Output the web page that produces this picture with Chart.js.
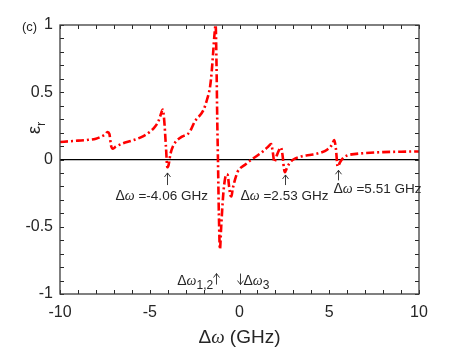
<!DOCTYPE html>
<html>
<head>
<meta charset="utf-8">
<script src="https://cdn.jsdelivr.net/npm/chart.js@4.4.0/dist/chart.umd.min.js"></script>
<style>
  body { margin: 0; background: #fff; }
  #wrap { width: 463px; height: 348px; position: relative; }
</style>
</head>
<body>
<div id="wrap"><canvas id="chart"></canvas></div>
<script>
// detuning (GHz) and relative permittivity
const detuning = [-10, -9, -8.5, -8, -7.7, -7.5, -7.35, -7.25, -7.15, -7.05, -6.9, -6.5, -6, -5.5, -5,
    -4.7, -4.5, -4.35, -4.28, -4.2, -4.1, -4.02, -3.95, -3.85, -3.7, -3.5, -3.2, -2.8, -2.5, -2.0,
    -1.8, -1.64, -1.55, -1.47, -1.4, -1.33, -1.28, -1.24, -1.2, -1.15, -1.09, -1.02, -0.9, -0.8,
    -0.72, -0.66, -0.58, -0.5, -0.45, -0.38, -0.25, -0.1, 0, 0.3, 0.68, 1.0, 1.3, 1.55, 1.7, 1.76,
    1.85, 1.94, 2.05, 2.2, 2.31, 2.4, 2.47, 2.53, 2.65, 2.8, 3.0, 3.5, 4.0, 4.5, 4.9, 5.15, 5.28,
    5.37, 5.47, 5.6, 5.8, 6.0, 6.5, 7, 8, 9, 10];
const epsR = [0.13, 0.14, 0.145, 0.155, 0.17, 0.185, 0.205, 0.19, 0.1, 0.08, 0.095, 0.12, 0.14, 0.165, 0.205,
    0.245, 0.29, 0.35, 0.372, 0.3, 0.1, -0.058, -0.04, 0.04, 0.1, 0.14, 0.17, 0.2, 0.28, 0.37,
    0.45, 0.54, 0.65, 0.79, 0.92, 1.0, 0.7, 0.3, 0, -0.4, -0.668, -0.5, -0.25, -0.14,
    -0.11, -0.115, -0.2, -0.27, -0.275, -0.22, -0.15, -0.09, -0.07, -0.04, 0, 0.03, 0.06, 0.09, 0.11, 0.115,
    0.06, -0.02, 0.02, 0.07, 0.09, 0.03, -0.06, -0.095, -0.06, -0.025, 0.0, 0.025, 0.035, 0.05, 0.075, 0.11, 0.145,
    0.08, -0.053, -0.02, 0.015, 0.03, 0.042, 0.048, 0.055, 0.058, 0.06];

const xTicks = [-10, -5, 0, 5, 10];
const yTicks = [-1, -0.5, 0, 0.5, 1];

// arrows pointing at the resonance dips (tip/tail in data units, text offset in px)
const markers = [
    { x: -4.06, label: '=-4.06 GHz', tipY: -0.1, tailY: -0.19, textY: -0.265, dx: -52 },
    { x: 2.53, label: '=2.53 GHz', tipY: -0.115, tailY: -0.19, textY: -0.265, dx: -45 },
    { x: 5.51, label: '=5.51 GHz', tipY: -0.08, tailY: -0.155, textY: -0.21, dx: -5 }
];

const points = detuning.map((d, i) => ({ x: d, y: epsR[i] }));

const SANS = '"Liberation Sans", Arial, sans-serif';
const SERIF = '"Liberation Serif", "DejaVu Serif", serif';

function drawDeltaOmega(ctx, x, y, size, align) {
    // "Δω" with an italic omega, returns width
    ctx.font = size + 'px ' + SANS;
    const wD = ctx.measureText('Δ').width;
    ctx.font = 'italic ' + size + 'px ' + SERIF;
    const wO = ctx.measureText('ω').width;
    const x0 = align === 'right' ? x - wD - wO : x;
    ctx.textAlign = 'left';
    ctx.font = size + 'px ' + SANS;
    ctx.fillText('Δ', x0, y);
    ctx.font = 'italic ' + size + 'px ' + SERIF;
    ctx.fillText('ω', x0 + wD, y);
    return wD + wO;
}

function arrow(ctx, x, yTail, yTip) {
    const dir = yTip < yTail ? 1 : -1;
    ctx.beginPath();
    ctx.moveTo(x, yTail); ctx.lineTo(x, yTip);
    ctx.moveTo(x - 3, yTip + 4 * dir); ctx.lineTo(x, yTip); ctx.lineTo(x + 3, yTip + 4 * dir);
    ctx.stroke();
}

const decorations = {
    id: 'decorations',
    afterDraw(chart) {
        const ctx = chart.ctx;
        const xs = chart.scales.x;
        const ys = chart.scales.y;
        const a = chart.chartArea;
        ctx.save();

        // inward ticks on all four sides
        ctx.strokeStyle = '#262626';
        ctx.lineWidth = 1;
        for (let v = -10; v <= 10; v++) {
            const px = Math.round(xs.getPixelForValue(v)) + 0.5;
            ctx.beginPath();
            ctx.moveTo(px, a.bottom); ctx.lineTo(px, a.bottom - 4);
            ctx.moveTo(px, a.top); ctx.lineTo(px, a.top + 4);
            ctx.stroke();
        }
        for (let k = -10; k <= 10; k++) {
            const py = Math.round(ys.getPixelForValue(k / 10)) + 0.5;
            ctx.beginPath();
            ctx.moveTo(a.left, py); ctx.lineTo(a.left + 4, py);
            ctx.moveTo(a.right, py); ctx.lineTo(a.right - 4, py);
            ctx.stroke();
        }

        // frame
        ctx.lineWidth = 1.3;
        ctx.strokeStyle = '#3c3c3c';
        ctx.strokeRect(a.left, a.top, a.right - a.left, a.bottom - a.top);

        ctx.fillStyle = '#262626';
        ctx.strokeStyle = '#262626';
        ctx.lineWidth = 0.9;
        ctx.textBaseline = 'alphabetic';

        // resonance markers
        markers.forEach(m => {
            const px = Math.round(xs.getPixelForValue(m.x)) + 0.5;
            arrow(ctx, px, ys.getPixelForValue(m.tailY), ys.getPixelForValue(m.tipY));
            const pyT = ys.getPixelForValue(m.textY) + 5;
            const startX = px + m.dx;
            const w = drawDeltaOmega(ctx, startX, pyT, 14);
            ctx.font = '13.5px ' + SANS;
            ctx.textAlign = 'left';
            ctx.fillText(' ' + m.label, startX + w, pyT);
        });

        // Δω1,2 ↑ and ↓ Δω3 near the bottom
        const px12 = xs.getPixelForValue(-1.3);
        const px3 = Math.round(xs.getPixelForValue(0)) + 0.5;
        const yb = ys.getPixelForValue(-0.9) + 4;
        arrow(ctx, Math.round(px12) + 0.5, yb, yb - 11);
        ctx.font = '12px ' + SANS;
        ctx.textAlign = 'left';
        const w12 = ctx.measureText('1,2').width;
        const subX = px12 - 3 - w12;
        ctx.fillText('1,2', subX, yb + 4);
        drawDeltaOmega(ctx, subX, yb, 14, 'right');

        arrow(ctx, px3, yb - 11, yb);
        const w3 = drawDeltaOmega(ctx, px3 + 3, yb, 14);
        ctx.font = '12px ' + SANS;
        ctx.fillText('3', px3 + 3 + w3, yb + 4);

        // x axis title
        const cx = (a.left + a.right) / 2;
        ctx.font = '19px ' + SANS;
        const wRest = ctx.measureText(' (GHz)').width;
        const wDw = ctx.measureText('Δ').width;
        ctx.font = 'italic 19px ' + SERIF;
        const wOm = ctx.measureText('ω').width;
        const sx = cx - (wDw + wOm + wRest) / 2;
        drawDeltaOmega(ctx, sx, 343, 19);
        ctx.font = '19px ' + SANS;
        ctx.textAlign = 'left';
        ctx.fillText(' (GHz)', sx + wDw + wOm, 343);

        // y axis title: epsilon_r, rotated
        ctx.save();
        ctx.translate(40, 134);
        ctx.rotate(-Math.PI / 2);
        ctx.font = '18px ' + SANS;
        ctx.textAlign = 'left';
        ctx.fillText('ε', 0, 0);
        const we = ctx.measureText('ε').width;
        ctx.font = '13px ' + SANS;
        ctx.fillText('r', we, 5);
        ctx.restore();

        // panel label
        ctx.font = '13px ' + SANS;
        ctx.textAlign = 'left';
        ctx.fillText('(c)', 22, 31);

        ctx.restore();
    }
};

new Chart(document.getElementById('chart'), {
    type: 'line',
    data: {
        datasets: [{
            data: points,
            borderColor: '#ff0000',
            borderWidth: 2.6,
            borderDash: [8, 3, 2, 3],
            pointRadius: 0,
            fill: false,
            cubicInterpolationMode: 'monotone'
        }]
    },
    options: {
        responsive: true,
        maintainAspectRatio: false,
        animation: false,
        events: [],
        layout: { padding: { left: 0, right: 44, top: 25, bottom: 0 } },
        plugins: { legend: { display: false }, tooltip: { enabled: false } },
        scales: {
            x: {
                type: 'linear',
                min: -10, max: 10,
                afterBuildTicks: s => { s.ticks = xTicks.map(v => ({ value: v })); },
                afterFit: s => { s.height = 54; },
                grid: { display: false, drawTicks: false },
                border: { display: false },
                ticks: {
                    padding: 9,
                    color: '#262626',
                    font: { family: SANS, size: 16 },
                    callback: v => String(v)
                }
            },
            y: {
                min: -1, max: 1,
                afterBuildTicks: s => { s.ticks = yTicks.map(v => ({ value: v })); },
                afterFit: s => { s.width = 60; },
                grid: {
                    drawTicks: false,
                    color: c => c.tick && c.tick.value === 0 ? '#000000' : 'rgba(0,0,0,0)',
                    lineWidth: 1.3
                },
                border: { display: false },
                ticks: {
                    padding: 7,
                    color: '#262626',
                    font: { family: SANS, size: 16 },
                    callback: v => String(v)
                }
            }
        }
    },
    plugins: [decorations]
});
</script>
</body>
</html>
